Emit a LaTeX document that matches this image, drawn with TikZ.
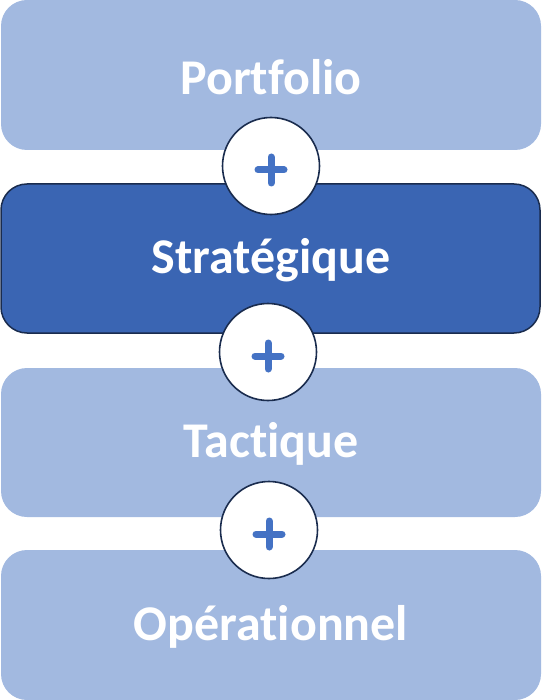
\documentclass[tikz,border=0pt]{standalone}
\usepackage{fontspec}
\setmainfont[Ligatures=NoCommon]{Carlito}
\definecolor{lightb}{HTML}{A2B9E0}
\definecolor{darkb}{HTML}{3A65B3}
\definecolor{navy}{HTML}{1A2C4E}
\definecolor{plusc}{HTML}{4472C4}
\begin{document}
\begin{tikzpicture}[x=1pt,y=-1pt,
  layer/.style={rounded corners=26pt,fill=lightb},
  lbl/.style={text=white,font=\fontsize{50}{54}\selectfont\bfseries},
  joint/.style={circle,fill=white,draw=navy,line width=1.6pt,minimum size=97pt,inner sep=0pt},
  plusmark/.style={draw=plusc,line width=7pt,line cap=round}]
\useasboundingbox (0,0) rectangle (542,700);
\fill[layer] (1,0) rectangle (541,150);
\fill[darkb,draw=navy,line width=1.5pt,rounded corners=26pt] (1,184) rectangle (540,333);
\fill[layer] (1,368) rectangle (541,517);
\fill[layer] (1,550) rectangle (541,700);
\node[lbl] (p) at (271,77) {Portfolio};
\node[lbl] (s) at (271,260) {Stratégique};
\node[lbl] (t) at (271,444) {Tactique};
\node[lbl] (o) at (271,627) {Opérationnel};
\foreach \n/\cx/\cy in {c1/271/166,c2/268/352,c3/269/530}{
  \node[joint] (\n) at (\cx,\cy) {};
  \draw[plusmark] ([xshift=-13pt,yshift=-4pt]\n.center) -- ([xshift=13pt,yshift=-4pt]\n.center);
  \draw[plusmark] ([yshift=-17pt]\n.center) -- ([yshift=9pt]\n.center);
}
\end{tikzpicture}
\end{document}
